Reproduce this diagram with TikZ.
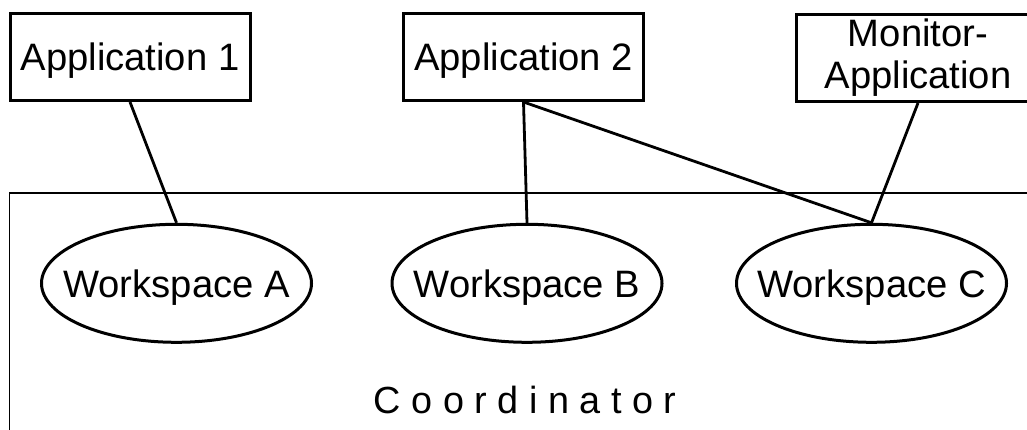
\documentclass[tikz,border=0pt]{standalone}
\usepackage{fontspec}
\setmainfont{Liberation Sans}
\usetikzlibrary{shapes.geometric}
\tikzset{
  appbox/.style={draw, line width=3pt, inner sep=0pt, minimum width=240pt, minimum height=87pt,
    font=\fontsize{38.2}{42}\selectfont},
  wsell/.style={draw, ellipse, line width=3pt, inner sep=0pt, minimum width=270pt, minimum height=118pt},
  wstext/.style={font=\fontsize{38.2}{42}\selectfont, inner sep=0pt, text height=27.5pt, text depth=0pt},
  conn/.style={line width=2.8pt},
  coordframe/.style={draw, line width=1.5pt},
  lbl/.style={font=\fontsize{37.8}{42}\selectfont, inner sep=0pt}
}
\begin{document}
\begin{tikzpicture}[x=1pt,y=-1pt]
  \clip (0,0) rectangle (1027,430);
  \fill[white] (0,0) rectangle (1027,430);
  \draw[coordframe] (9.5,193) rectangle (1100,500);
  \node[appbox, text height=27.5pt, text depth=0pt] (app1) at (130,57) {Application 1};
  \node[appbox, text height=27.5pt, text depth=0pt] (app2) at (523.5,57) {Application 2};
  \node[appbox, minimum width=243pt, align=center] (mon) at (918,58) {Monitor-\\Application};
  \node[wsell] (wa) at (176.5,283.3) {};
  \node[wsell] (wb) at (527,283.3) {};
  \node[wsell] (wc) at (871.5,283.3) {};
  \node[wstext] (wat) at (wa.center) {Workspace A};
  \node[wstext] (wbt) at (wb.center) {Workspace B};
  \node[wstext] (wct) at (wc.center) {Workspace C};
  \node[lbl, anchor=base] (coord) at (525,413) {C o o r d i n a t o r};
  \draw[conn] (app1.south) -- (wa.north);
  \draw[conn] (app2.south) -- (wb.north);
  \draw[conn] (app2.south) -- (wc.north);
  \draw[conn] (mon.south) -- (wc.north);
\end{tikzpicture}
\end{document}
